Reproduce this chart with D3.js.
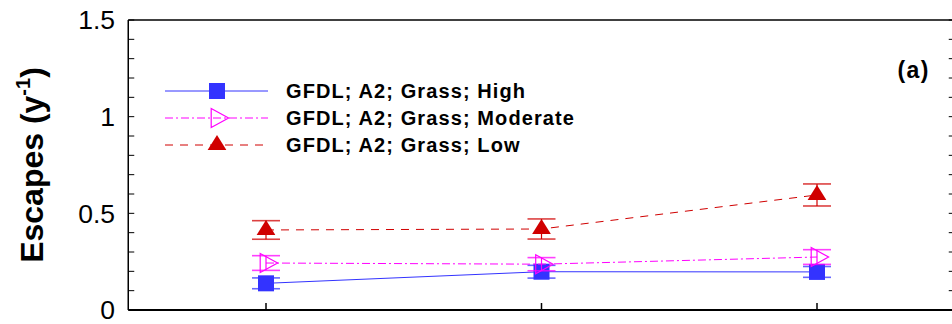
<!DOCTYPE html>
<html><head><meta charset="utf-8">
<script src="https://cdn.jsdelivr.net/npm/d3@7"></script>
<style>
html,body{margin:0;padding:0;background:#fff;}
svg{display:block;font-family:"Liberation Sans",Arial,sans-serif;}
</style></head>
<body>
<svg id="chart" width="952" height="324"></svg>
<script>
// ---- data ----
const categories = ["P1", "P2", "P3"];
const seriesNames = ["GFDL; A2; Grass; High", "GFDL; A2; Grass; Moderate", "GFDL; A2; Grass; Low"];
const highValues = [0.138, 0.198, 0.197];
const highErrors = [0.028, 0.033, 0.028];
const moderateValues = [0.243, 0.237, 0.274];
const moderateErrors = [0.038, 0.034, 0.038];
const lowValues = [0.414, 0.419, 0.595];
const lowErrors = [0.048, 0.052, 0.057];
const yTickValues = [0, 0.5, 1, 1.5];
const yTickLabels = ["0", "0.5", "1", "1.5"];
const yMinorTicks = d3.range(0, 1.5001, 0.1);
const panelLabel = "(a)";

// ---- layout ----
const svg = d3.select("#chart");
const L = 128.25, R = 954.75, T = 20, B = 310;
const x = d3.scalePoint().domain(categories).range([L, R]).padding(0.5);
const y = d3.scaleLinear().domain([0, 1.5]).range([B, T]);

const series = [
  {name: seriesNames[0], values: highValues, errors: highErrors, color: "#3333ff", dash: null, marker: "square"},
  {name: seriesNames[1], values: moderateValues, errors: moderateErrors, color: "#ff00ff", dash: "8,3,2,3", marker: "triright"},
  {name: seriesNames[2], values: lowValues, errors: lowErrors, color: "#d00000", dash: "8,7", marker: "triup"}
];

function drawMarker(g, type, cx, cy, color) {
  if (type === "square") {
    g.append("rect").attr("x", cx - 8).attr("y", cy - 8).attr("width", 16).attr("height", 16)
      .attr("fill", color);
  } else if (type === "triright") {
    const w = 17.4, h = 19;
    const pts = [[cx - w / 3, cy - h / 2], [cx + 2 * w / 3, cy], [cx - w / 3, cy + h / 2]];
    g.append("path").attr("d", d3.line()(pts) + "Z").attr("fill", "none")
      .attr("stroke", color).attr("stroke-width", 1.2);
  } else if (type === "triup") {
    const w = 18.7, h = 15;
    const pts = [[cx, cy - 2 * h / 3], [cx + w / 2, cy + h / 3], [cx - w / 2, cy + h / 3]];
    g.append("path").attr("d", d3.line()(pts) + "Z").attr("fill", color);
  }
}

// ---- frame ----
const frame = svg.append("g").attr("stroke", "#000").attr("fill", "none");
frame.append("line").attr("x1", L).attr("x2", R).attr("y1", T).attr("y2", T).attr("stroke-width", 1.5);
frame.append("line").attr("x1", L).attr("x2", R).attr("y1", B).attr("y2", B).attr("stroke-width", 2);
frame.append("line").attr("x1", L).attr("x2", L).attr("y1", T).attr("y2", B).attr("stroke-width", 1.5);
frame.append("line").attr("x1", R).attr("x2", R).attr("y1", T).attr("y2", B).attr("stroke-width", 1.5);

yMinorTicks.forEach(v => {
  frame.append("line").attr("x1", L).attr("x2", L + 6).attr("y1", y(v)).attr("y2", y(v)).attr("stroke-width", 1);
  frame.append("line").attr("x1", R).attr("x2", R - 6).attr("y1", y(v)).attr("y2", y(v)).attr("stroke-width", 1);
});
categories.forEach(c => {
  frame.append("line").attr("x1", x(c)).attr("x2", x(c)).attr("y1", B).attr("y2", B - 7).attr("stroke-width", 1.5);
});

// y tick labels
svg.append("g").selectAll("text").data(yTickValues).join("text")
  .attr("x", 115).attr("y", d => y(d)).attr("dy", "0.35em")
  .attr("text-anchor", "end").attr("font-size", 26.5).attr("fill", "#000")
  .text((d, i) => yTickLabels[i]);

// y axis label
const yl = svg.append("text")
  .attr("transform", "translate(43," + (T + B) / 2 + ") rotate(-90)")
  .attr("text-anchor", "middle").attr("font-size", 32).attr("font-weight", "bold").attr("fill", "#000");
yl.append("tspan").text("Escapes (y");
yl.append("tspan").attr("font-size", 20).attr("dy", -13).text("-1");
yl.append("tspan").attr("dy", 13).text(")");

// panel label
svg.append("text").attr("x", 930).attr("y", 78).attr("text-anchor", "end")
  .attr("font-size", 23).attr("font-weight", "bold").attr("letter-spacing", 1.5).text(panelLabel);

// ---- series ----
series.forEach(s => {
  const g = svg.append("g");
  const pts = s.values.map((v, i) => [x(categories[i]), y(v)]);
  g.append("path").attr("d", d3.line()(pts)).attr("fill", "none")
    .attr("stroke", s.color).attr("stroke-width", 1).attr("stroke-dasharray", s.dash);
  s.values.forEach((v, i) => {
    const cx = x(categories[i]);
    const e = s.errors[i];
    g.append("line").attr("x1", cx).attr("x2", cx).attr("y1", y(v + e)).attr("y2", y(v - e))
      .attr("stroke", s.color).attr("stroke-width", 1.2);
    [v + e, v - e].forEach(w => {
      g.append("line").attr("x1", cx - 14).attr("x2", cx + 14).attr("y1", y(w)).attr("y2", y(w))
        .attr("stroke", s.color).attr("stroke-width", 1.6).attr("stroke-opacity", 0.75);
    });
    drawMarker(g, s.marker, cx, y(v), s.color);
  });
});

// ---- legend ----
const legRows = [91, 118, 145];
series.forEach((s, i) => {
  const g = svg.append("g");
  const ly = legRows[i];
  g.append("line").attr("x1", 165).attr("x2", 268).attr("y1", ly).attr("y2", ly)
    .attr("stroke", s.color).attr("stroke-width", 1).attr("stroke-dasharray", s.dash);
  drawMarker(g, s.marker, 217, ly, s.color);
  g.append("text").attr("x", 286).attr("y", ly + 7.3).attr("font-size", 20).attr("font-weight", "bold")
    .attr("letter-spacing", 1.1).attr("fill", "#000").text(s.name);
});
</script>
</body></html>
